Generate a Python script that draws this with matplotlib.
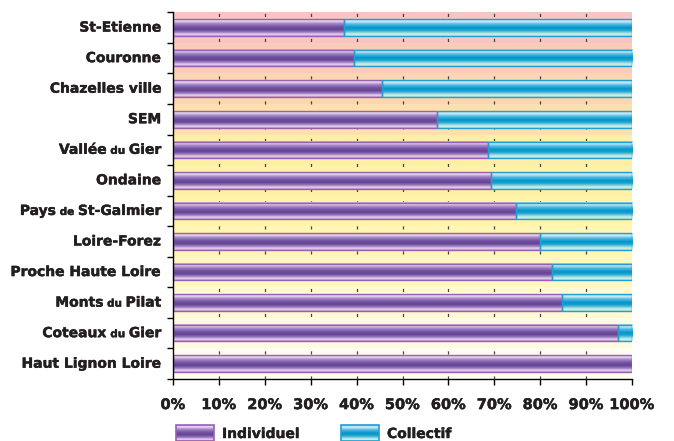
"""Individuel / Collectif share by territory, stacked horizontal bars."""
import matplotlib
matplotlib.use("Agg")
import matplotlib.pyplot as plt
import matplotlib.patheffects as pe
import numpy as np
from matplotlib.colors import LinearSegmentedColormap
from matplotlib.patches import Rectangle
from matplotlib.offsetbox import TextArea, HPacker, AnnotationBbox

# label pieces: (text, small?)
labels = [
    [("St-Etienne", False)],
    [("Couronne", False)],
    [("Chazelles ville", False)],
    [("SEM", False)],
    [("Vallée", False), (" du ", True), ("Gier", False)],
    [("Ondaine", False)],
    [("Pays", False), (" de ", True), ("St-Galmier", False)],
    [("Loire-Forez", False)],
    [("Proche Haute Loire", False)],
    [("Monts", False), (" du ", True), ("Pilat", False)],
    [("Coteaux", False), (" du ", True), ("Gier", False)],
    [("Haut Lignon Loire", False)],
]
individuel = [37.3, 39.4, 45.6, 57.6, 68.6, 69.2, 74.7, 79.9, 82.6, 84.8, 96.9, 100.0]
collectif = [100 - v for v in individuel]

band_colors = ["#f8c5c5", "#fbcbb9", "#fcd6b3", "#fde0ad", "#ffeea8", "#fff2a6",
               "#fff4aa", "#fff5b4", "#fff7c2", "#fff9d4", "#fffbe3", "#fffdf0"]

purple = LinearSegmentedColormap.from_list("purple", [
    (0.0, "#b99ad2"), (0.1, "#ece2f4"), (0.25, "#a78ac7"), (0.45, "#7452a3"),
    (0.62, "#664394"), (0.78, "#9b7cbe"), (0.9, "#e8d6ef"), (1.0, "#c49ad0")])
cyan = LinearSegmentedColormap.from_list("cyan", [
    (0.0, "#7ccae8"), (0.12, "#d6f0fb"), (0.3, "#52b9e1"), (0.5, "#0096cc"),
    (0.66, "#1ba3cf"), (0.8, "#8ed2da"), (0.9, "#d6f2e9"), (1.0, "#a6ded5")])
grad = np.linspace(0, 1, 64).reshape(-1, 1)

FONT = "DejaVu Sans"
INK = "#231f20"
# slightly heavier than plain bold
HEAVY = [pe.withStroke(linewidth=0.3, foreground=INK)]

fig = plt.figure(figsize=(6.74, 4.41), dpi=100)
ax = fig.add_axes([173 / 674, 1 - 379 / 441, 459 / 674, 366.7 / 441])
ax.set_facecolor("none")

n = len(labels)
bh = 0.54


def grad_bar(x0, width, y, cmap, edge):
    ax.imshow(grad, cmap=cmap, extent=(x0, x0 + width, y + bh / 2, y - bh / 2),
              origin="upper", aspect="auto", zorder=3, interpolation="bilinear")
    ax.add_patch(Rectangle((x0, y - bh / 2), width, bh, fill=False,
                           edgecolor=edge, lw=1.0, zorder=4))


for i in range(n):
    ax.axhspan(i - 0.5, i + 0.5, color=band_colors[i], lw=0, zorder=0)
    if individuel[i] > 0:
        grad_bar(0, individuel[i], i, purple, "#9b5fb2")
    if collectif[i] > 0:
        grad_bar(individuel[i], collectif[i], i, cyan, "#249ed0")

for x in range(10, 100, 10):
    ax.axvline(x, color="#444444", lw=0.9, ls=(0, (2.5, 7.5)), zorder=1)

ax.set_xlim(0, 100)
ax.set_ylim(n - 0.5, -0.5)
ax.set_xticks(range(0, 101, 10))
ax.set_xticklabels([f"{v}%" for v in range(0, 101, 10)], fontsize=10.5,
                   fontweight="bold", color=INK, family=FONT)
for t in ax.get_xticklabels():
    t.set_path_effects(HEAVY)
ax.set_yticks(np.arange(-0.5, n, 1.0))
ax.set_yticklabels([])
ax.tick_params(axis="both", direction="out", length=4, width=1, color="black")
ax.tick_params(axis="x", pad=9)
for s in ("top", "right"):
    ax.spines[s].set_visible(False)
for s in ("left", "bottom"):
    ax.spines[s].set_linewidth(1.0)
    ax.spines[s].set_zorder(5)

# category labels with smaller connecting words
for i, parts in enumerate(labels):
    areas = [TextArea(t, textprops=dict(fontsize=7.5 if small else 10,
                                        fontweight="bold", color=INK,
                                        family=FONT, path_effects=HEAVY))
             for t, small in parts]
    box = HPacker(children=areas, align="baseline", pad=0, sep=0)
    ab = AnnotationBbox(box, (0, i), xycoords=("axes fraction", "data"),
                        xybox=(-8.5, 0), boxcoords="offset points",
                        box_alignment=(1, 0.5), frameon=False, pad=0)
    ax.add_artist(ab)

# legend drawn in pixel coordinates under the chart
lax = fig.add_axes([0, 0, 1, 1], zorder=-1)
lax.set_xlim(0, 674)
lax.set_ylim(441, 0)
lax.axis("off")
for x0, cmap, edge, name in [(176, purple, "#9b5fb2", "Individuel"),
                             (341, cyan, "#249ed0", "Collectif")]:
    lax.imshow(grad, cmap=cmap, extent=(x0, x0 + 38, 441, 425), origin="upper",
               aspect="auto", interpolation="bilinear")
    lax.add_patch(Rectangle((x0, 425), 38, 16, fill=False, edgecolor=edge, lw=1.2))
    lax.text(x0 + 46, 434, name, fontsize=10, fontweight="bold", color=INK,
             family=FONT, va="center", ha="left", path_effects=HEAVY)
lax.set_xlim(0, 674)
lax.set_ylim(441, 0)

fig.savefig("out.png", dpi=100)
